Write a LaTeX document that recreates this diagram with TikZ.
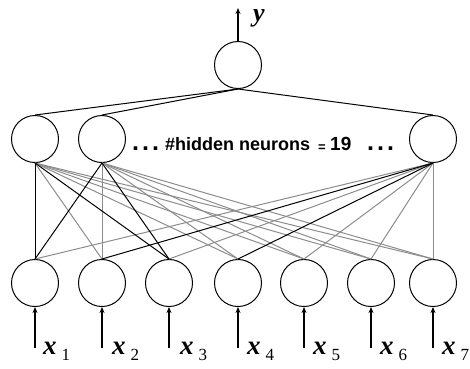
\documentclass[tikz,border=0pt]{standalone}
\usepackage{fontspec}
\setmainfont{Liberation Serif}
\newfontfamily\arialbold{Liberation Sans Bold}
\usetikzlibrary{arrows.meta}
\definecolor{linegray}{HTML}{8C8C8C}
\begin{document}
\begin{tikzpicture}[x=1pt,y=-1pt,
  neuron/.style={circle,draw,line width=1pt,minimum size=47pt,inner sep=0pt},
  wgray/.style={draw=linegray,line width=1pt},
  wblack/.style={draw=black,line width=1pt},
  inarrow/.style={line width=2pt,-{Stealth[length=6pt,width=5pt]}},
  varlabel/.style={anchor=base west,inner sep=0pt,font=\fontsize{27}{27}\selectfont\bfseries\itshape},
  sanslabel/.style={anchor=base west,inner sep=0pt,font=\arialbold\fontsize{18}{18}\selectfont},
  dotlabel/.style={anchor=base west,inner sep=0pt,font=\arialbold\fontsize{25}{25}\selectfont},
]
\useasboundingbox (0,0) rectangle (470,368);

% output neuron
\node[neuron] (o) at (238,65) {};
% hidden neurons
\node[neuron] (h1) at (35,139) {};
\node[neuron] (h2) at (102,139) {};
\node[neuron] (h3) at (433,139) {};
% input neurons
\node[neuron] (i1) at (35,283) {};
\node[neuron] (i2) at (102,283) {};
\node[neuron] (i3) at (169,283) {};
\node[neuron] (i4) at (238,283) {};
\node[neuron] (i5) at (304,283) {};
\node[neuron] (i6) at (371,283) {};
\node[neuron] (i7) at (433,283) {};

% output to hidden
\foreach \h in {h1,h2,h3} \draw[wblack] (o.south) -- (\h.north);

% gray weights
\foreach \i in {i2,i4,i5,i6,i7} \draw[wgray] (h1.south) -- (\i.north);
\foreach \i in {i2,i4,i5,i6,i7} \draw[wgray] (h2.south) -- (\i.north);
\foreach \i in {i1,i3,i5,i6,i7} \draw[wgray] (h3.south) -- (\i.north);
% black weights
\foreach \i in {i1,i3} \draw[wblack] (h1.south) -- (\i.north);
\foreach \i in {i1,i3} \draw[wblack] (h2.south) -- (\i.north);
\foreach \i in {i2,i4} \draw[wblack] (h3.south) -- (\i.north);

% input arrows
\foreach \n/\x in {1/35,2/102,3/169,4/238,5/304,6/371,7/433} {
  \coordinate (a\n) at (\x,348);
  \draw[inarrow] (a\n) -- (i\n.south);
}
% output arrow
\coordinate (yend) at (238,8);
\draw[inarrow] (o.north) -- (yend);

% labels
\foreach \n/\x in {1/43,2/112,3/180,4/247,5/313,6/380,7/442} {
  \node[varlabel] (l\n) at (\x,354) {x\hspace{5pt}\raisebox{-6pt}{\fontsize{17}{17}\selectfont\mdseries\upshape\n}};
}
\node[varlabel,font=\fontsize{26}{26}\selectfont\bfseries\itshape] (ylab) at (253,21) {y};

% hidden layer text
\node[dotlabel] (dotsl) at (132,150) {.\hspace{3pt}.\hspace{3pt}.};
\node[sanslabel] (hid) at (165,150) {\#hidden neurons};
\node[sanslabel,font=\arialbold\fontsize{13}{13}\selectfont] (eq) at (318,151) {=};
\node[sanslabel,font=\arialbold\fontsize{19}{19}\selectfont] (num) at (330,150) {19};
\node[dotlabel] (dotsr) at (367,150) {.\hspace{3pt}.\hspace{3pt}.};
\end{tikzpicture}
\end{document}
